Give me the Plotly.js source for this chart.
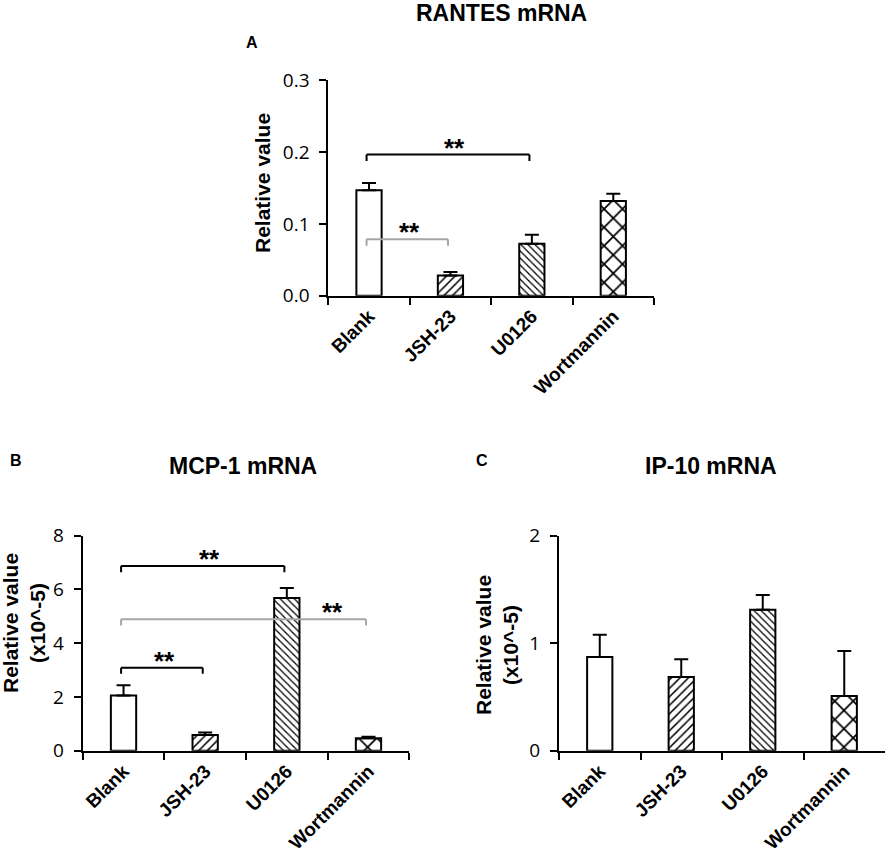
<!DOCTYPE html>
<html>
<head>
<meta charset="utf-8">
<script src="https://cdn.plot.ly/plotly-3.0.1.min.js"></script>
<style>html,body{margin:0;padding:0;background:#fff;}#chart{width:886px;height:856px;}</style>
</head>
<body>
<div id="chart"></div>
<script>
// ---- data ----
const categories = ['Blank', 'JSH-23', 'U0126', 'Wortmannin'];
const rantesMean = [0.147, 0.028, 0.0725, 0.132];
const rantesErr  = [0.010, 0.005, 0.0125, 0.010];
const mcpMean = [2.05, 0.58, 5.68, 0.46];
const mcpErr  = [0.39, 0.10, 0.37, 0.06];
const ipMean = [0.872, 0.686, 1.312, 0.509];
const ipErr  = [0.207, 0.164, 0.136, 0.418];
// significance brackets: [fromIndex, toIndex, level, labelIndex, colour key]
const rantesBrackets = [[0, 2, 0.1965, 1.05, 'black'], [0, 1, 0.0786, 0.5, 'gray']];
const mcpBrackets = [[0, 2, 6.87, 1.05, 'black'], [0, 3, 4.89, 2.56, 'gray'], [0, 1, 3.09, 0.5, 'black']];
const sigLabel = '**';

// ---- styles ----
const patShapes = ['', '/', '\\', 'x'];
const patSizes = [6, 6, 5, 13];
const bracketColors = {black: '#000000', gray: '#a6a6a6'};
const boldFont = {family: 'Liberation Sans, Arial, sans-serif', color: '#000', weight: 'bold'};

function barTrace(vals, errs, xa, ya) {
  return {
    type: 'bar', x: categories, y: vals, xaxis: xa, yaxis: ya,
    marker: {
      color: 'white',
      line: {color: 'black', width: 2},
      pattern: {shape: patShapes, size: patSizes, solidity: 0.25, fgcolor: 'black', bgcolor: 'white', fillmode: 'replace'}
    },
    error_y: {type: 'data', array: errs, arrayminus: errs.map(() => 0), symmetric: false,
              color: 'black', thickness: 2, width: 7},
    hoverinfo: 'skip'
  };
}

const data = [
  barTrace(rantesMean, rantesErr, 'x', 'y'),
  barTrace(mcpMean, mcpErr, 'x2', 'y2'),
  barTrace(ipMean, ipErr, 'x3', 'y3')
];

function xAxis(domain, anchor) {
  return {
    domain: domain, anchor: anchor, type: 'category', range: [-0.5, 3.5],
    showline: true, linecolor: 'black', linewidth: 2, mirror: false,
    ticks: 'outside', tickson: 'boundaries', ticklen: 7, tickwidth: 2, tickcolor: 'black',
    tickangle: -45, tickfont: Object.assign({size: 19}, boldFont),
    showgrid: false, zeroline: false, fixedrange: true
  };
}
function yAxis(domain, anchor, range, dtick, fmt) {
  return {
    domain: domain, anchor: anchor, range: range, dtick: dtick, tickformat: fmt,
    showline: true, linecolor: 'black', linewidth: 2,
    ticks: 'outside', ticklen: 7, tickwidth: 2, tickcolor: 'black',
    ticklabelstandoff: 6,
    tickfont: {family: 'Open Sans, sans-serif', size: 19, color: '#000'},
    showgrid: false, zeroline: false, fixedrange: true
  };
}

const shapes = [];
const annotations = [];
function addBrackets(list, xr, yr, drop) {
  list.forEach(b => {
    const off = -0.03;
    const c = bracketColors[b[4]];
    const x0 = b[0] + off, x1 = b[1] + off, y = b[2];
    const line = {color: c, width: 2};
    shapes.push({type: 'line', xref: xr, yref: yr, x0: x0, x1: x1, y0: y, y1: y, line: line, layer: 'above'});
    shapes.push({type: 'line', xref: xr, yref: yr, x0: x0, x1: x0, y0: y, y1: y - drop, line: line, layer: 'above'});
    shapes.push({type: 'line', xref: xr, yref: yr, x0: x1, x1: x1, y0: y, y1: y - drop, line: line, layer: 'above'});
    annotations.push({xref: xr, yref: yr, x: b[3], y: y, text: sigLabel, showarrow: false,
      yanchor: 'bottom', yshift: -10,
      font: {family: 'Liberation Sans, Arial, sans-serif', size: 26, color: '#000', weight: 'bold'}});
  });
}
addBrackets(rantesBrackets, 'x', 'y', 0.009);
addBrackets(mcpBrackets, 'x2', 'y2', 0.23);

function paperText(text, x, y, size, angle) {
  annotations.push({xref: 'paper', yref: 'paper', x: x / 886, y: 1 - y / 856, text: text,
    showarrow: false, xanchor: 'center', yanchor: 'middle', textangle: angle || 0,
    font: Object.assign({size: size}, boldFont)});
}
// titles and panel letters
paperText('RANTES mRNA', 501, 13, 23);
paperText('A', 252, 42, 16);
paperText('MCP-1 mRNA', 243, 466, 23);
paperText('B', 16, 461, 16);
paperText('IP-10 mRNA', 711, 466, 23);
paperText('C', 482, 461, 16);
// y-axis titles
paperText('Relative value', 263, 183, 21, -90);
paperText('Relative value<br>(x10^-5)', 24, 623, 21, -90);
paperText('Relative value<br>(x10^-5)', 497, 645, 21, -90);

const layout = {
  width: 886, height: 856,
  margin: {l: 0, r: 0, t: 0, b: 0},
  paper_bgcolor: 'white', plot_bgcolor: 'white',
  showlegend: false, bargap: 0.69,
  xaxis: xAxis([328.3 / 886, 654 / 886], 'y'),
  yaxis: yAxis([1 - 295.7 / 856, 1 - 80.3 / 856], 'x', [0, 0.3], 0.1, '.1f'),
  xaxis2: xAxis([82.7 / 886, 409.3 / 886], 'y2'),
  yaxis2: yAxis([1 - 750.7 / 856, 1 - 535.7 / 856], 'x2', [0, 8], 2, 'd'),
  xaxis3: xAxis([559 / 886, 885 / 886], 'y3'),
  yaxis3: yAxis([1 - 750.7 / 856, 1 - 535.7 / 856], 'x3', [0, 2], 1, 'd'),
  shapes: shapes,
  annotations: annotations
};

Plotly.newPlot('chart', data, layout, {staticPlot: true, displayModeBar: false});
</script>
</body>
</html>
